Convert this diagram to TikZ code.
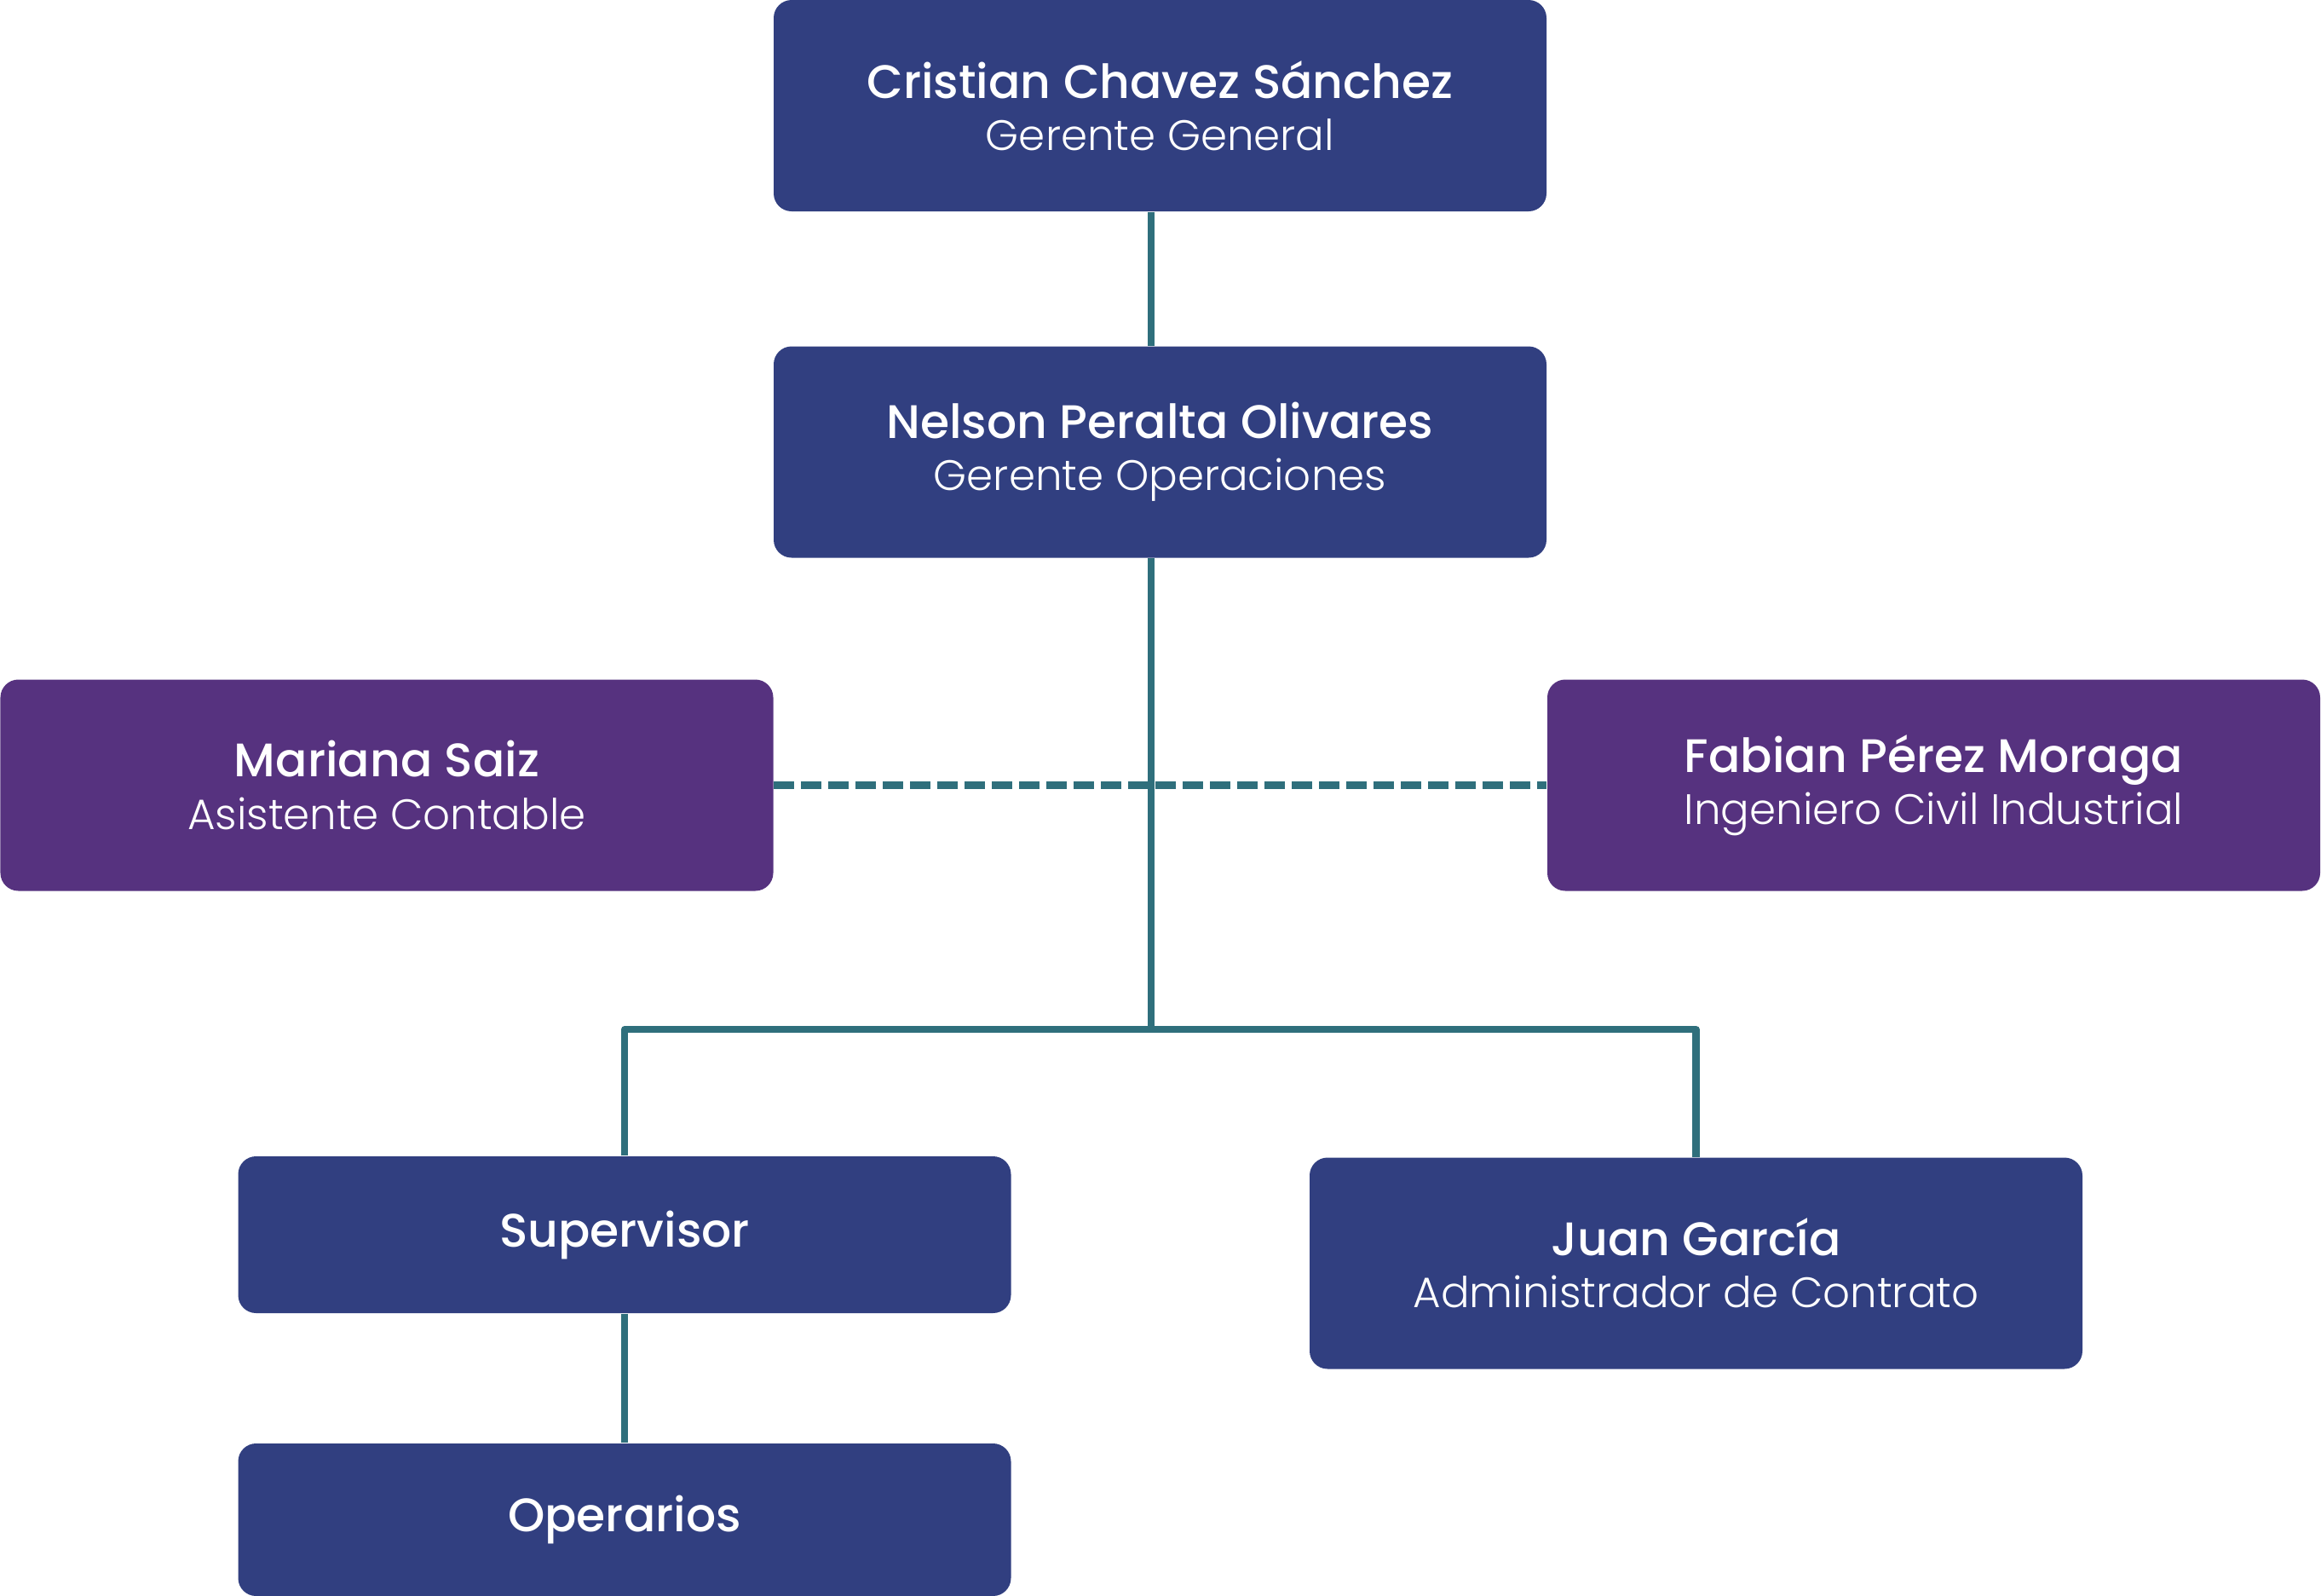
\documentclass[tikz,border=0pt]{standalone}
\usepackage{fontspec}
\setmainfont{Poppins}
\newfontfamily\namefont{Poppins Medium}
\newfontfamily\rolefont{Poppins Light}
\newcommand{\nombre}[1]{{\namefont\fontsize{15.7}{17.4}\selectfont #1}}
\definecolor{azul}{HTML}{313F80}
\definecolor{morado}{HTML}{56327F}
\definecolor{verde}{HTML}{2F6F7C}
\begin{document}
\begin{tikzpicture}[
    caja/.style={rectangle,rounded corners=0.21cm,fill=azul,text=white,align=center,
        minimum width=9.07cm,minimum height=2.48cm,inner sep=0pt,
        font=\rolefont\fontsize{14.2}{17.4}\selectfont},
    apoyo/.style={caja,fill=morado},
    linea/.style={draw=verde,line width=2.3pt,line join=round},
    ]
        \useasboundingbox (0,0) rectangle (27.24,-18.73);
        \node[caja] (gg) at (13.615,-1.24) {\nombre{Cristian Chavez Sánchez}\\Gerente General};
        \node[caja] (go) at (13.615,-5.305) {\nombre{Nelson Peralta Olivares}\\Gerente Operaciones};
        \node[apoyo] (ac) at (4.54,-9.215) {\nombre{Mariana Saiz}\\Asistente Contable};
        \node[apoyo] (ic) at (22.695,-9.215) {\nombre{Fabian Pérez Moraga}\\Ingeniero Civil Industrial};
        \node[caja,minimum height=1.84cm] (sup) at (7.33,-14.49) {\nombre{Supervisor}};
        \node[caja] (adm) at (19.905,-14.825) {\nombre{Juan García}\\Administrador de Contrato};
        \node[caja,minimum height=1.79cm] (op) at (7.33,-17.835) {\nombre{Operarios}};
        \coordinate (bus) at (13.51,-12.08);
        \draw[linea] (gg.south -| bus) -- (go.north -| bus);
        \draw[linea] (go.south -| bus) -- (bus);
        \draw[linea] (sup.north) |- (bus) -| (adm.north);
        \draw[linea,dash pattern=on 0.24cm off 0.08cm] (ac.east) -- (ic.west);
        \draw[linea] (sup) -- (op);
    \end{tikzpicture}
\end{document}
